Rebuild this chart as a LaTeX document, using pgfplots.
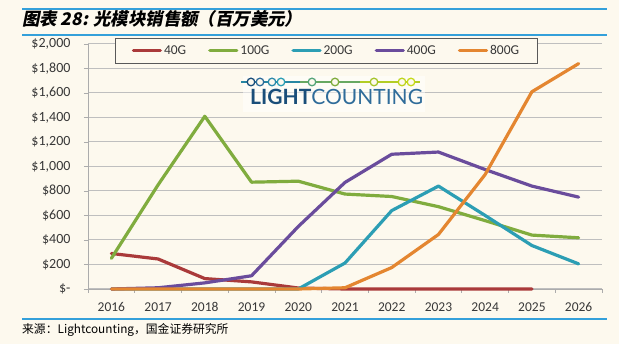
\documentclass[border=0pt]{standalone}
\usepackage{pgfplots}
\pgfplotsset{compat=1.18}
\usepackage{fontspec}
\setmainfont{Carlito}
\newfontfamily\cjk{Noto Sans CJK SC}
\newfontfamily\cjkit[FakeSlant=0.2]{Noto Sans CJK SC}
\newfontfamily\lato{Lato}
\definecolor{bgcream}{RGB}{253,249,238}
\definecolor{blueline}{RGB}{52,160,218}
\definecolor{c40}{RGB}{170,58,58}
\definecolor{c100}{RGB}{128,172,62}
\definecolor{c200}{RGB}{44,158,180}
\definecolor{c400}{RGB}{106,76,156}
\definecolor{c800}{RGB}{228,134,48}
\definecolor{tickgray}{RGB}{56,56,56}
\definecolor{lgdark}{RGB}{26,78,122}
\definecolor{lgmid}{RGB}{47,108,154}

\pgfplotstableread{
x  v40  v100 v200 v400 v800
0  290  250  0    0    0
1  245  850  0    10   0
2  85   1410 0    50   0
3  58   872  0    108  0
4  8    880  0    510  0
5  0    775  212  870  10
6  0    755  640  1100 175
7  0    672  840  1118 445
8  0    558  600  975  935
9  0    440  355  840  1610
10 nan  418  205  750  1840
}\datatable

\begin{document}
\begin{tikzpicture}[x=1pt,y=1pt]
\fill[bgcream] (0,0) rectangle (619,344);
\draw[blueline, line width=1.2pt] (22,335) -- (607,335);
\draw[blueline, line width=1.2pt] (22,309) -- (607,309);
\draw[blueline, line width=1.2pt] (22,25) -- (607,25);
\node[anchor=base west, inner sep=0] at (22,318) {\cjkit\bfseries\fontsize{17.4}{17.4}\selectfont 图表 28: 光模块销售额（百万美元）};
\node[anchor=west, inner sep=0] at (22,14) {\cjk\fontsize{11.8}{12}\selectfont 来源：Lightcounting，国金证券研究所};

\begin{axis}[
  at={(88pt,55pt)}, anchor=south west,
  scale only axis, width=514pt, height=245pt,
  xmin=-0.5, xmax=10.5, ymin=0, ymax=2000,
  axis x line*=bottom, axis y line*=left,
  axis line style={draw=gray!65, line width=0.8pt},
  xtick={0,...,10},
  xticklabels={2016,2017,2018,2019,2020,2021,2022,2023,2024,2025,2026},
  minor xtick={-0.5,0.5,...,10.5},
  ytick={0,200,...,2000},
  yticklabels={\$-,\$200,\$400,\$600,\$800,{\$1,000},{\$1,200},{\$1,400},{\$1,600},{\$1,800},{\$2,000}},
  tick align=outside,
  major tick length=4pt, minor tick length=4pt,
  major x tick style={draw=none},
  minor x tick style={draw=gray!65, line width=0.8pt},
  major y tick style={draw=gray!65, line width=0.8pt},
  ymajorgrids,
  major grid style={draw=gray!50, line width=1pt},
  yticklabel style={font=\fontsize{14}{14}\selectfont, text=tickgray, xshift=-10pt},
  xticklabel style={font=\fontsize{13.5}{13.5}\selectfont, text=tickgray, yshift=-6pt},
  legend style={at={(0.464,0.973)}, anchor=center, legend columns=5,
    draw=gray!70!black, line width=0.8pt, fill=bgcream,
    inner xsep=16pt, inner ysep=5pt,
    font=\fontsize{13.5}{13.5}\selectfont, text=tickgray,
    /tikz/every even column/.append style={column sep=20pt}},
  legend image code/.code={\draw[#1, line width=3.2pt] (0pt,0pt) -- (27pt,0pt);},
  every axis plot/.append style={line width=3.2pt, line join=round, line cap=round},
  unbounded coords=jump,
  clip=false,
]
\addplot[c40] table[x=x, y=v40] {\datatable};
\addlegendentry{40G}
\addplot[c100] table[x=x, y=v100] {\datatable};
\addlegendentry{100G}
\addplot[c200] table[x=x, y=v200] {\datatable};
\addlegendentry{200G}
\addplot[c400] table[x=x, y=v400] {\datatable};
\addlegendentry{400G}
\addplot[c800] table[x=x, y=v800] {\datatable};
\addlegendentry{800G}
\end{axis}

% logo
\fill[white, opacity=0.5] (243,232) rectangle (425,268);
\draw[line width=1.4pt, color=c200!70!lgdark] (241,262) -- (300,262);
\draw[line width=1.4pt, color=c100!70!c200] (300,262) -- (360,262);
\draw[line width=1.4pt, color=c100!60!yellow] (360,262) -- (420,262);
\foreach \px/\cc in {251/lgdark, 260/lgmid, 272/c200!60!lgmid, 281/c200, 312/c200!50!c100, 335/c100, 374/c100!70!yellow, 402/c100!50!yellow, 411/c100!45!yellow}{
  \draw[line width=1.3pt, color=\cc, fill=bgcream] (\px,262) circle (3.8);
}
\node[anchor=base west, inner sep=0] at (250,239) {\lato\fontsize{21}{21}\selectfont\color{lgdark}\bfseries LIGHT\mdseries\color{lgmid}COUNTING};
\end{tikzpicture}
\end{document}
